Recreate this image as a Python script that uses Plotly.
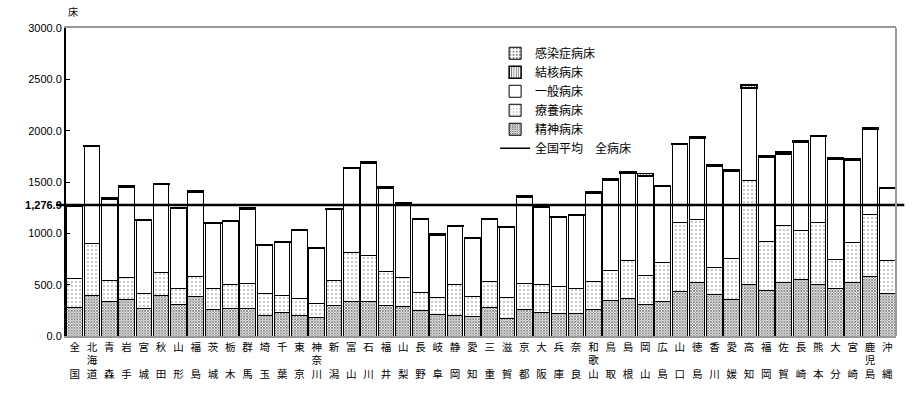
import plotly.graph_objects as go

names = ["全国","北海道","青森","岩手","宮城","秋田","山形","福島","茨城","栃木","群馬","埼玉","千葉","東京","神奈川","新潟",
         "富山","石川","福井","山梨","長野","岐阜","静岡","愛知","三重","滋賀","京都","大阪","兵庫","奈良","和歌山","鳥取",
         "島根","岡山","広島","山口","徳島","香川","愛媛","高知","福岡","佐賀","長崎","熊本","大分","宮崎","鹿児島","沖縄"]

psych = [279,391,333,356,269,391,308,381,260,266,266,202,228,199,176,301,
         337,337,295,285,250,208,199,189,276,173,256,228,218,218,256,346,
         365,304,337,433,519,401,359,497,439,519,555,497,458,526,577,410]
ltc = [285,510,212,218,141,231,150,202,199,231,250,208,163,170,138,244,
       474,448,336,289,170,164,298,192,253,199,260,278,260,240,279,295,
       366,282,378,670,612,269,394,1019,481,555,471,606,289,384,606,327]
general = [703.5,946,789,876,718,853,782,822,637.5,621.5,722,475,525,658,543,685,
           821,897,808,709,714,614,574.5,570,607,687,837.5,746,674,719.5,859,879,
           855,973,740.5,763,794,985,855,899,824.5,699,858,840,973,806,835,704]
tb = [8,10,10,12,8,12,6,10,8,8,10,5,6,7,4,8,
      10,12,10,12,8,6,7,6,9,6,10,10,7,7,10,10,
      10,22,8,10,12,10,15,28,10,20,15,10,14,10,15,6]
infect = [1.4,2,2,3,1.5,3,2,2,1.5,1.5,2,1,1,1,1,2,
          2,2,3,3,2,2,1.5,1,2,2,1.5,1,1,1.5,3,2,
          3,2,1.5,2,2,2,2,3,1.5,2,2,2,3,2,2,2]
national_avg = 1276.9

y_ticks = [0, 500, 1000, 1500, 2000, 2500, 3000]

def vlabel(n):
    if len(n) == 2:
        return n[0] + "<br>\u3000<br>" + n[1]
    return "<br>".join(list(n))

labels = [vlabel(n) for n in names]
xs = list(range(len(names)))

fig = go.Figure()
outline = dict(color="black", width=1)
fig.add_bar(x=xs, y=psych, name="精神病床", legendrank=5,
            marker=dict(color="white", line=outline,
                        pattern=dict(shape="x", size=2, solidity=0.7, fgcolor="black", bgcolor="white")))
fig.add_bar(x=xs, y=ltc, name="療養病床", legendrank=4,
            marker=dict(color="white", line=outline,
                        pattern=dict(shape=".", size=4, solidity=0.12, fgcolor="black", bgcolor="white")))
fig.add_bar(x=xs, y=general, name="一般病床", legendrank=3,
            marker=dict(color="white", line=outline))
fig.add_bar(x=xs, y=tb, name="結核病床", legendrank=2,
            marker=dict(color="white", line=dict(color="black", width=1.5),
                        pattern=dict(shape="|", size=3, solidity=0.4, fgcolor="black", bgcolor="white")))
fig.add_bar(x=xs, y=infect, name="感染症病床", legendrank=1,
            marker=dict(color="white", line=dict(color="black", width=1),
                        pattern=dict(shape=".", size=4, solidity=0.3, fgcolor="black", bgcolor="white")))
fig.add_scatter(x=[None], y=[None], mode="lines", name="全国平均\u3000全病床", legendrank=6,
                line=dict(color="black", width=1.5))

fig.add_shape(type="line", xref="paper", yref="y", x0=-0.012, x1=1.01,
              y0=national_avg, y1=national_avg, line=dict(color="black", width=2.5))
fig.add_shape(type="line", xref="paper", yref="paper", x0=1, x1=1, y0=0, y1=1,
              line=dict(color="#999999", width=2))

tickvals = y_ticks + [national_avg]
ticktext = [f"{v:.1f}" for v in y_ticks] + [f"<b>{national_avg:,.1f}</b>"]

fig.update_layout(
    width=913, height=393,
    margin=dict(l=66, r=17, t=28, b=53),
    barmode="stack", bargap=0.1,
    plot_bgcolor="white", paper_bgcolor="white",
    font=dict(family="Noto Sans CJK JP", size=11, color="black"),
    showlegend=True,
    legend=dict(x=0.517, y=0.965, xanchor="left", yanchor="top", traceorder="normal",
                bgcolor="rgba(0,0,0,0)", font=dict(size=12, family="Noto Sans CJK JP"),
                itemwidth=30, tracegroupgap=0),
    xaxis=dict(tickvals=xs, ticktext=labels, range=[-0.5, len(names) - 0.5],
               showline=True, linecolor="#999999", linewidth=2, mirror=True,
               ticks="", tickfont=dict(size=10.5, family="Noto Sans CJK JP"), tickangle=0),
    yaxis=dict(range=[0, 3000], tickvals=tickvals, ticktext=ticktext,
               showline=True, linecolor="black", linewidth=2,
               ticks="inside", ticklen=4, tickcolor="black",
               showgrid=False, zeroline=False,
               tickfont=dict(size=11, family="Liberation Sans")),
    annotations=[dict(text="床", xref="paper", yref="paper", x=0.0, y=1.0, yshift=7,
                      xanchor="left", yanchor="bottom", showarrow=False,
                      font=dict(size=10, family="Noto Sans CJK JP"))],
)

fig.write_html("out.html")
